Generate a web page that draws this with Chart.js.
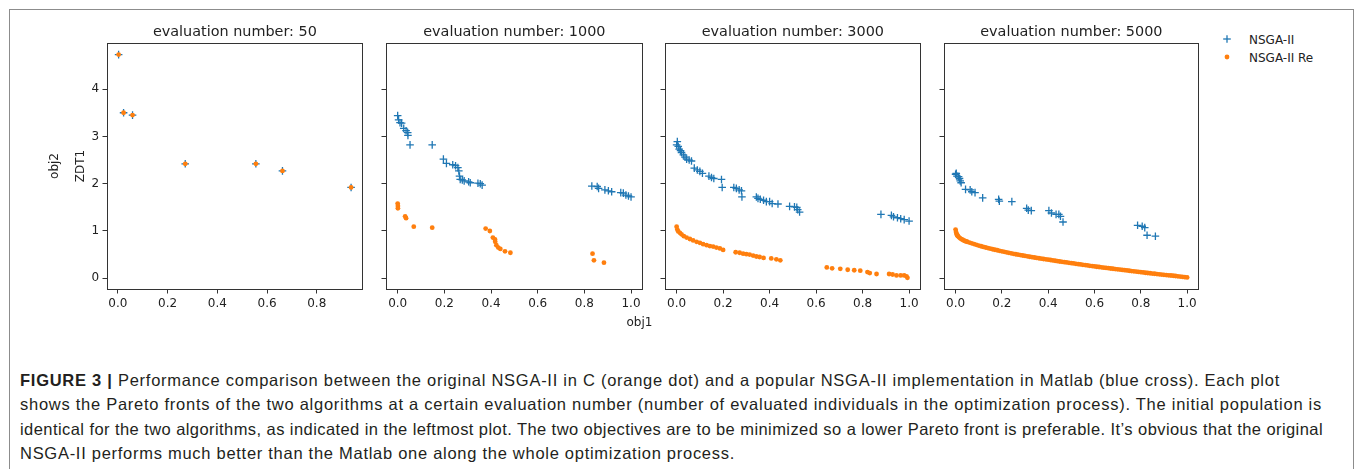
<!DOCTYPE html>
<html>
<head>
<meta charset="utf-8">
<script src="https://cdn.jsdelivr.net/npm/chart.js@4.4.1/dist/chart.umd.min.js"></script>
<style>
  html, body { margin: 0; padding: 0; background: #fff; }
  body { width: 1355px; height: 469px; position: relative; overflow: hidden; font-family: "DejaVu Sans", sans-serif; }
  .frame { position: absolute; left: 9px; top: 9px; width: 1343px; height: 470px; border: 1px solid #8c8c8c; border-bottom: none; }
  canvas { position: absolute; top: 0; }
  .txt { position: absolute; font-size: 12px; line-height: 12px; color: #222; white-space: nowrap; }
  .caption { position: absolute; left: 20px; top: 367.5px; font-family: "Liberation Sans", Arial, sans-serif; font-size: 16.5px; line-height: 24.5px; color: #231f20; }
  .caption div { white-space: nowrap; width: max-content; }
  .caption b { font-weight: bold; }
  svg { position: absolute; overflow: visible; }
</style>
</head>
<body>
<div class="frame"></div>

<canvas id="p1" width="368" height="320" style="left:0px"></canvas>
<canvas id="p2" width="274" height="320" style="left:374px"></canvas>
<canvas id="p3" width="273" height="320" style="left:653px"></canvas>
<canvas id="p4" width="272" height="320" style="left:932px"></canvas>

<div class="txt" id="xlab" style="left:639.5px; top:315.5px; transform:translateX(-50%)">obj1</div>

<svg width="10" height="10" style="left:1227px; top:39px">
  <line x1="-3.8" y1="0" x2="3.8" y2="0" stroke="#1f77b4" stroke-width="1.3"/>
  <line x1="0" y1="-3.8" x2="0" y2="3.8" stroke="#1f77b4" stroke-width="1.3"/>
</svg>
<svg width="10" height="10" style="left:1227px; top:57px">
  <circle cx="0" cy="0" r="2.4" fill="#ff7f0e"/>
</svg>
<div class="txt" style="left:1249px; top:34px">NSGA-II</div>
<div class="txt" style="left:1249px; top:51.6px">NSGA-II Re</div>

<div class="caption" id="caption">
  <div><b>FIGURE 3 |</b> Performance comparison between the original NSGA-II in C (orange dot) and a popular NSGA-II implementation in Matlab (blue cross). Each plot</div>
  <div>shows the Pareto fronts of the two algorithms at a certain evaluation number (number of evaluated individuals in the optimization process). The initial population is</div>
  <div>identical for the two algorithms, as indicated in the leftmost plot. The two objectives are to be minimized so a lower Pareto front is preferable. It’s obvious that the original</div>
  <div>NSGA-II performs much better than the Matlab one along the whole optimization process.</div>
</div>

<script>
// evaluation numbers of the four panels
const evalNumbers = [50, 1000, 3000, 5000];

// tick labels
const xTicksFirst = [0, 0.2, 0.4, 0.6, 0.8];
const xTicksRest = [0, 0.2, 0.4, 0.6, 0.8, 1.0];
const yTicks = [0, 1, 2, 3, 4];

// [obj1, obj2] points, Matlab NSGA-II (blue cross) and original C NSGA-II (orange dot)
const matlab50 = [[0.003, 4.73], [0.023, 3.50], [0.059, 3.45], [0.271, 2.42], [0.555, 2.42], [0.662, 2.27], [0.938, 1.92]];
const c50 = [[0.003, 4.73], [0.023, 3.50], [0.059, 3.45], [0.271, 2.42], [0.555, 2.42], [0.662, 2.27], [0.938, 1.92]];

const matlab1000 = [[0, 3.44], [0.004, 3.35], [0.01, 3.29], [0.017, 3.28], [0.026, 3.17], [0.036, 3.12], [0.043, 3.08],
  [0.044, 3.02], [0.053, 2.82], [0.148, 2.82], [0.196, 2.52], [0.209, 2.43], [0.236, 2.40], [0.248, 2.38], [0.258, 2.34],
  [0.262, 2.27], [0.265, 2.16], [0.268, 2.09], [0.277, 2.08], [0.285, 2.06], [0.304, 2.04], [0.311, 2.02], [0.344, 2.01],
  [0.354, 2.00], [0.362, 1.97], [0.832, 1.95], [0.855, 1.94], [0.861, 1.90], [0.888, 1.87], [0.903, 1.85], [0.917, 1.83],
  [0.956, 1.81], [0.967, 1.80], [0.978, 1.76], [0.989, 1.74], [1.0, 1.72]];
const c1000 = [[0, 1.58], [0.001, 1.53], [0.001, 1.48], [0.032, 1.31], [0.036, 1.27], [0.069, 1.09], [0.148, 1.07],
  [0.377, 1.05], [0.395, 1.00], [0.408, 0.86], [0.417, 0.82], [0.418, 0.77], [0.423, 0.70], [0.431, 0.65], [0.44, 0.62],
  [0.46, 0.57], [0.483, 0.54], [0.835, 0.52], [0.841, 0.38], [0.884, 0.33]];

const matlab3000 = [[0.003, 2.89], [0, 2.82], [0.007, 2.79], [0.011, 2.73], [0.017, 2.70], [0.021, 2.66], [0.029, 2.61],
  [0.036, 2.56], [0.043, 2.52], [0.054, 2.50], [0.064, 2.48], [0.076, 2.33], [0.089, 2.29], [0.1, 2.26], [0.111, 2.22],
  [0.139, 2.16], [0.15, 2.13], [0.16, 2.11], [0.193, 2.09], [0.196, 1.92], [0.246, 1.92], [0.257, 1.90], [0.269, 1.87],
  [0.279, 1.85], [0.281, 1.72], [0.343, 1.72], [0.35, 1.69], [0.36, 1.67], [0.374, 1.65], [0.386, 1.62], [0.4, 1.62],
  [0.411, 1.58], [0.436, 1.57], [0.486, 1.52], [0.507, 1.51], [0.517, 1.50], [0.521, 1.45], [0.529, 1.40], [0.879, 1.35],
  [0.924, 1.33], [0.933, 1.30], [0.95, 1.28], [0.964, 1.26], [0.979, 1.24], [1.0, 1.21]];
const c3000 = [[0, 1.09], [0.003, 1.03], [0.007, 0.99], [0.014, 0.96], [0.021, 0.93], [0.031, 0.89], [0.043, 0.86],
  [0.057, 0.83], [0.071, 0.80], [0.086, 0.77], [0.1, 0.75], [0.114, 0.72], [0.129, 0.70], [0.143, 0.68], [0.157, 0.67],
  [0.171, 0.65], [0.186, 0.63], [0.2, 0.60], [0.254, 0.55], [0.271, 0.54], [0.286, 0.52], [0.3, 0.51], [0.314, 0.50],
  [0.329, 0.48], [0.343, 0.46], [0.357, 0.45], [0.374, 0.43], [0.407, 0.42], [0.429, 0.40], [0.446, 0.38], [0.646, 0.23],
  [0.669, 0.21], [0.704, 0.20], [0.736, 0.18], [0.764, 0.17], [0.79, 0.16], [0.821, 0.13], [0.831, 0.11], [0.86, 0.09],
  [0.914, 0.09], [0.929, 0.08], [0.946, 0.06], [0.964, 0.06], [0.979, 0.06], [0.989, 0.04], [0.993, 0.01]];

const matlab5000 = [[0, 2.20], [0.003, 2.22], [0.006, 2.16], [0.013, 2.15], [0.017, 2.11], [0.02, 2.06], [0.024, 2.02],
  [0.043, 1.88], [0.063, 1.87], [0.07, 1.83], [0.084, 1.81], [0.117, 1.70], [0.186, 1.67], [0.189, 1.63], [0.243, 1.62],
  [0.307, 1.48], [0.314, 1.44], [0.327, 1.43], [0.403, 1.43], [0.414, 1.38], [0.434, 1.35], [0.446, 1.35], [0.453, 1.31],
  [0.464, 1.19], [0.786, 1.12], [0.806, 1.10], [0.817, 1.07], [0.827, 0.91], [0.863, 0.89]];
const c5000 = [[0, 1.03], [0.002, 0.98], [0.004, 0.94], [0.006, 0.92], [0.008, 0.905], [0.01, 0.89], [0.015, 0.865],
  [0.02, 0.845], [0.025, 0.828], [0.03, 0.815], [0.035, 0.80], [0.04, 0.79], [0.045, 0.78], [0.05, 0.772], [0.06, 0.755],
  [0.07, 0.738], [0.08, 0.722], [0.09, 0.707], [0.10, 0.692], [0.11, 0.677], [0.12, 0.663], [0.13, 0.651], [0.14, 0.638],
  [0.15, 0.626], [0.16, 0.614], [0.17, 0.603], [0.18, 0.592], [0.19, 0.581], [0.20, 0.570], [0.21, 0.559], [0.22, 0.548],
  [0.23, 0.538], [0.24, 0.527], [0.25, 0.517], [0.26, 0.508], [0.27, 0.499], [0.28, 0.490], [0.29, 0.481], [0.30, 0.472],
  [0.31, 0.463], [0.32, 0.455], [0.33, 0.447], [0.34, 0.439], [0.35, 0.431], [0.36, 0.423], [0.37, 0.415], [0.38, 0.407],
  [0.39, 0.400], [0.40, 0.393], [0.41, 0.386], [0.42, 0.378], [0.43, 0.370], [0.44, 0.362], [0.45, 0.355], [0.46, 0.348],
  [0.47, 0.341], [0.48, 0.334], [0.49, 0.327], [0.50, 0.320], [0.51, 0.313], [0.52, 0.306], [0.53, 0.299], [0.54, 0.292],
  [0.55, 0.285], [0.56, 0.278], [0.57, 0.271], [0.58, 0.264], [0.59, 0.257], [0.60, 0.250], [0.61, 0.244], [0.62, 0.238],
  [0.63, 0.231], [0.64, 0.225], [0.65, 0.219], [0.66, 0.213], [0.67, 0.207], [0.68, 0.201], [0.69, 0.195], [0.70, 0.189],
  [0.71, 0.183], [0.72, 0.177], [0.73, 0.171], [0.74, 0.165], [0.75, 0.159], [0.76, 0.153], [0.77, 0.147], [0.78, 0.141],
  [0.79, 0.135], [0.80, 0.129], [0.81, 0.123], [0.82, 0.117], [0.83, 0.111], [0.84, 0.106], [0.85, 0.100], [0.86, 0.095],
  [0.87, 0.089], [0.88, 0.084], [0.89, 0.079], [0.90, 0.073], [0.91, 0.068], [0.92, 0.063], [0.93, 0.058], [0.94, 0.053],
  [0.95, 0.048], [0.96, 0.042], [0.97, 0.036], [0.98, 0.030], [0.99, 0.024], [1.00, 0.018]];

const BLUE = '#1f77b4';
const ORANGE = '#ff7f0e';
const AXIS = '#333';
const TEXT = '#222';

Chart.defaults.font.family = '"DejaVu Sans", sans-serif';
Chart.defaults.color = TEXT;

const toPts = arr => arr.map(p => ({ x: p[0], y: p[1] }));

function panel(id, evalNo, blue, orange, xRange, xTicks, first) {
  new Chart(document.getElementById(id), {
    type: 'scatter',
    data: {
      datasets: [
        { label: 'NSGA-II', data: toPts(blue), pointStyle: 'cross', pointRadius: 3.8, pointBorderWidth: 1.3,
          borderColor: BLUE, backgroundColor: BLUE, order: 1 },
        { label: 'NSGA-II Re', data: toPts(orange), pointStyle: 'circle', pointRadius: 2.4, pointBorderWidth: 0,
          borderColor: ORANGE, backgroundColor: ORANGE, order: 0 }
      ]
    },
    options: {
      responsive: false,
      devicePixelRatio: 1,
      animation: false,
      events: [],
      layout: { padding: { left: 0, right: 5, top: 0, bottom: 0 } },
      plugins: {
        legend: { display: false },
        tooltip: { enabled: false },
        title: {
          display: true, text: 'evaluation number: ' + evalNo, fullSize: false, color: TEXT,
          font: { size: 14.4, weight: 'normal', lineHeight: 1.25 }, padding: { top: 23, bottom: 2 }
        }
      },
      scales: {
        x: {
          type: 'linear', position: 'bottom', min: xRange[0], max: xRange[1],
          afterBuildTicks: s => { s.ticks = xTicks.map(v => ({ value: v })); },
          afterFit: s => { s.height = 31; },
          ticks: { font: { size: 12 }, color: TEXT, padding: 3.3, maxRotation: 0, autoSkip: false, callback: v => v.toFixed(1) },
          grid: { drawOnChartArea: false, drawTicks: true, tickLength: 4.5, tickWidth: 1, color: AXIS },
          border: { display: true, color: AXIS, width: 1 }
        },
        y: {
          type: 'linear', position: 'left', min: -0.227, max: 4.975,
          afterBuildTicks: s => { s.ticks = yTicks.map(v => ({ value: v })); },
          afterFit: s => { s.width = first ? 107 : 12; },
          ticks: { display: first, font: { size: 12 }, color: TEXT, padding: 3.3, callback: v => String(v) },
          grid: { drawOnChartArea: false, drawTicks: true, tickLength: 4.5, tickWidth: 1, color: AXIS },
          border: { display: true, color: AXIS, width: 1 },
          title: {
            display: first, text: ['obj2', 'ZDT1'], color: TEXT,
            font: { size: 12, lineHeight: 26 / 12 }, padding: { top: 42, bottom: 0 }
          }
        },
        xTop: {
          type: 'linear', position: 'top',
          afterFit: s => { s.height = 0; },
          ticks: { display: false }, grid: { display: false, drawTicks: false },
          border: { display: true, color: AXIS, width: 1 }
        },
        yRight: {
          type: 'linear', position: 'right',
          afterFit: s => { s.width = 0; },
          ticks: { display: false }, grid: { display: false, drawTicks: false },
          border: { display: true, color: AXIS, width: 1 }
        }
      }
    }
  });
}

panel('p1', evalNumbers[0], matlab50, c50, [-0.0437, 0.9847], xTicksFirst, true);
panel('p2', evalNumbers[1], matlab1000, c1000, [-0.05, 1.05], xTicksRest, false);
panel('p3', evalNumbers[2], matlab3000, c3000, [-0.05, 1.05], xTicksRest, false);
panel('p4', evalNumbers[3], matlab5000, c5000, [-0.05, 1.05], xTicksRest, false);

// fit each caption line to its width in the original layout
const lineEnds = [1280, 1322, 1323, 735];
document.querySelectorAll('#caption div').forEach((el, i) => {
  const w = el.getBoundingClientRect().width;
  const n = el.textContent.length;
  el.style.letterSpacing = ((lineEnds[i] - 20 - w) / n) + 'px';
});
</script>
</body>
</html>
